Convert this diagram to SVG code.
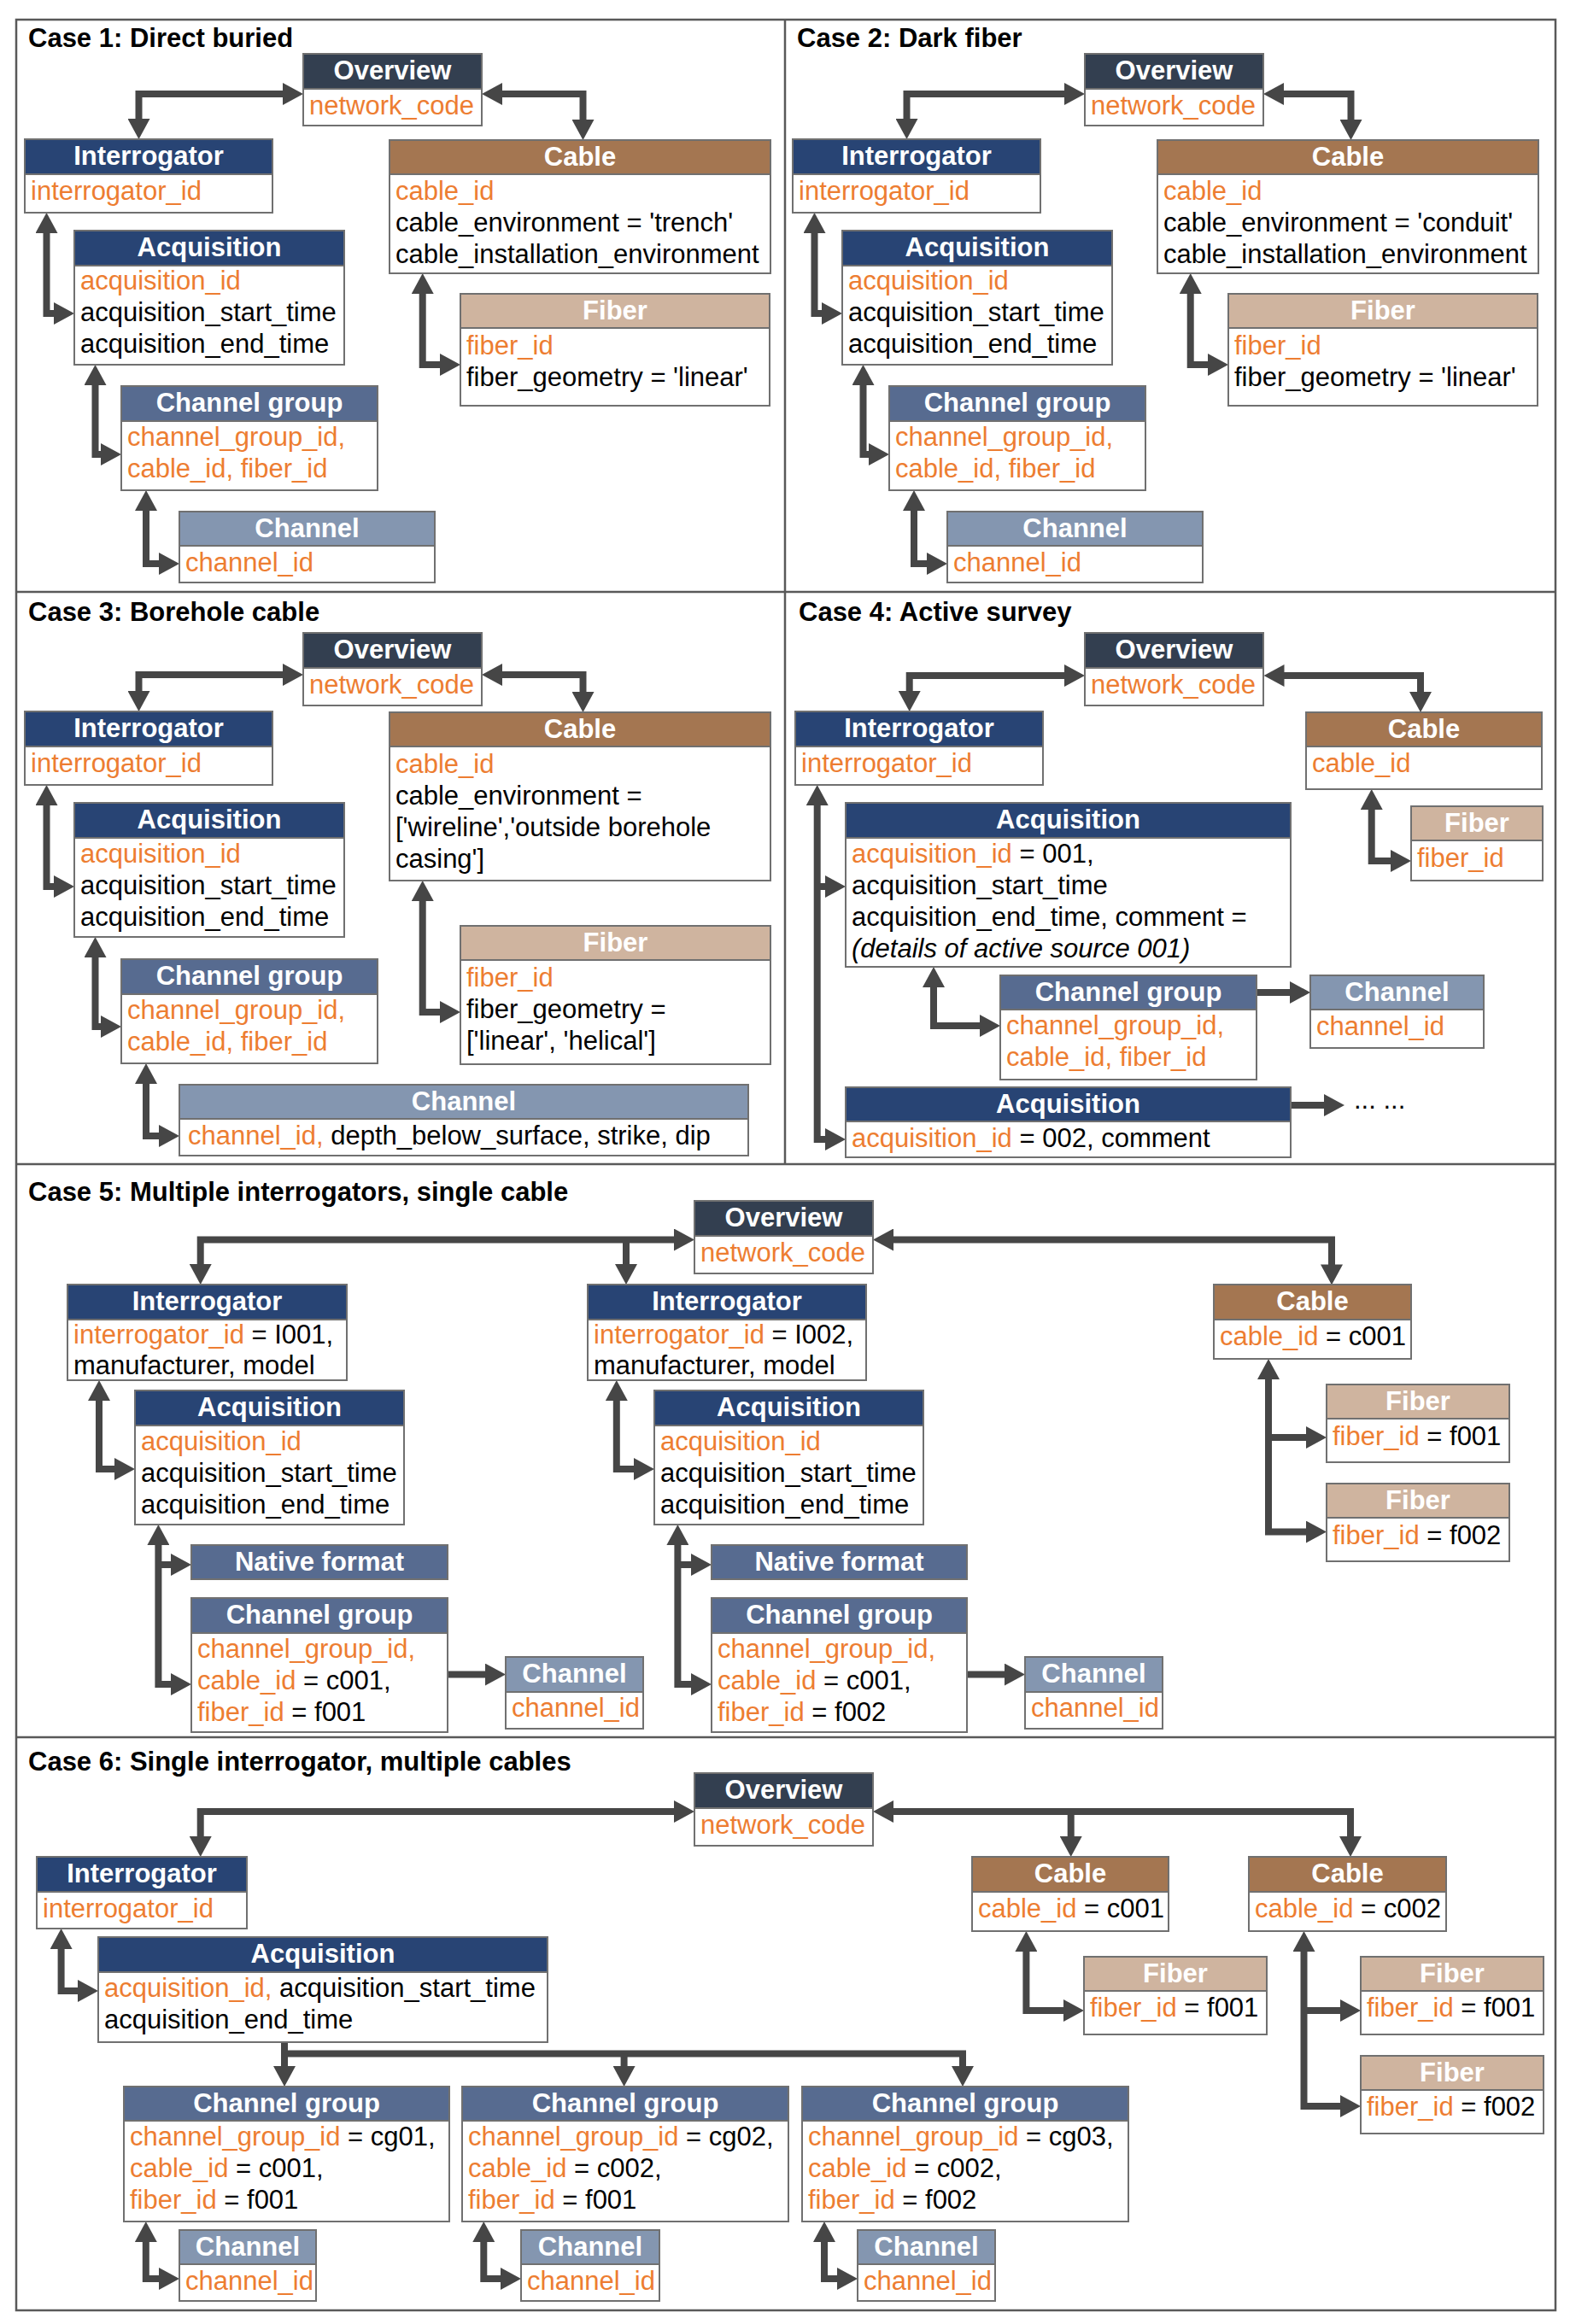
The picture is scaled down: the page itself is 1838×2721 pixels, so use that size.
<svg xmlns="http://www.w3.org/2000/svg" width="1838" height="2721" viewBox="0 0 1838 2721">
<style>
text{font-family:"Liberation Sans",Arial,sans-serif;font-size:31px;fill:#000}
.h{font-weight:bold;fill:#fff;text-anchor:middle}
.ttl{font-weight:bold}
.o{fill:#ed7d31}
.i{font-style:italic}
.b{fill:#fff;stroke:#707070;stroke-width:2}
.ov{fill:#333f50;stroke:#707070;stroke-width:2}
.bl{fill:#284474;stroke:#707070;stroke-width:2}
.cg{fill:#576b90;stroke:#707070;stroke-width:2}
.ch{fill:#8496b0;stroke:#707070;stroke-width:2}
.cb{fill:#a47651;stroke:#707070;stroke-width:2}
.fb{fill:#cfb49f;stroke:#707070;stroke-width:2}
.fr{fill:none;stroke:#595959;stroke-width:2.5}
#connectors path{fill:none;stroke:#464646;stroke-width:8;stroke-linejoin:miter}
#connectors .bi{marker-start:url(#ah);marker-end:url(#ah)}
#connectors .u{marker-end:url(#ah)}
</style>
<defs>
<marker id="ah" markerUnits="userSpaceOnUse" markerWidth="24" markerHeight="26" viewBox="0 0 24 26" refX="1" refY="13" orient="auto-start-reverse"><path d="M0,0L24,13L0,26z" fill="#464646"/></marker>
</defs>
<rect x="0" y="0" width="1838" height="2721" fill="#fff"/>
<g id="frame">
<rect class="fr" x="19" y="23" width="1802" height="2682"/>
<line class="fr" x1="19" y1="693" x2="1821" y2="693"/>
<line class="fr" x1="19" y1="1363" x2="1821" y2="1363"/>
<line class="fr" x1="19" y1="2034" x2="1821" y2="2034"/>
<line class="fr" x1="919" y1="23" x2="919" y2="1363"/>
<text class="ttl" x="33" y="55">Case 1: Direct buried</text>
<text class="ttl" x="933" y="55">Case 2: Dark fiber</text>
<text class="ttl" x="33" y="727">Case 3: Borehole cable</text>
<text class="ttl" x="935" y="727">Case 4: Active survey</text>
<text class="ttl" x="33" y="1406">Case 5: Multiple interrogators, single cable</text>
<text class="ttl" x="33" y="2073">Case 6: Single interrogator, multiple cables</text>
</g>
<g id="connectors">
<!-- case 1 -->
<path class="bi" d="M162.5,140V110H332"/>
<path class="bi" d="M587,110H682.5V141"/>
<path class="bi" d="M54.5,272V367H64"/>
<path class="bi" d="M111.5,450V532H119"/>
<path class="bi" d="M171,597V660H187"/>
<path class="bi" d="M494.7,343V427H516"/>
<!-- case 2 -->
<path class="bi" d="M1061.5,140V110H1247"/>
<path class="bi" d="M1502,110H1581.5V141"/>
<path class="bi" d="M953.5,272V367H963"/>
<path class="bi" d="M1010.5,450V532H1018"/>
<path class="bi" d="M1070,597V660H1086"/>
<path class="bi" d="M1393.7,343V427H1415"/>
<!-- case 3 -->
<path class="bi" d="M162.5,810V790H332"/>
<path class="bi" d="M587,790H682.5V811"/>
<path class="bi" d="M54.5,942V1038H64"/>
<path class="bi" d="M111.5,1120V1202H119"/>
<path class="bi" d="M171,1268V1330H187"/>
<path class="bi" d="M494.7,1054V1185H516"/>
<!-- case 4 -->
<path class="bi" d="M1064.7,810V791H1247"/>
<path class="bi" d="M1502.5,791H1663V811"/>
<path class="bi" d="M956.7,942V1334H967"/>
<path class="u" d="M956.7,1038H967"/>
<path class="bi" d="M1093,1155V1201H1148"/>
<path class="u" d="M1471,1162H1511"/>
<path class="u" d="M1511,1294H1551"/>
<path class="bi" d="M1605.7,947V1008H1629"/>
<!-- case 5 -->
<path class="bi" d="M234.7,1481V1451.5H790"/>
<path class="u" d="M733,1451.5V1481"/>
<path class="bi" d="M1045,1451.5H1559V1481.4"/>
<path class="bi" d="M116,1639V1720H135"/>
<path class="bi" d="M185.4,1808V1972H201"/>
<path class="u" d="M185.4,1832H201"/>
<path class="u" d="M524,1960.6H569"/>
<path class="bi" d="M721.8,1639V1720H743"/>
<path class="bi" d="M793.4,1808V1972H810"/>
<path class="u" d="M793.4,1832H810"/>
<path class="u" d="M1132,1960.6H1177"/>
<path class="bi" d="M1485,1614V1793.6H1530"/>
<path class="u" d="M1485,1683H1530"/>
<!-- case 6 -->
<path class="bi" d="M234.7,2151V2121H790"/>
<path class="bi" d="M1045,2121H1581V2151"/>
<path class="u" d="M1253.7,2121V2151"/>
<path class="bi" d="M71.6,2281V2331H92"/>
<path class="u" d="M333,2391V2420"/>
<path class="u" d="M333,2404.6H1127V2420"/>
<path class="u" d="M730.6,2404.6V2420"/>
<path class="bi" d="M170.8,2624V2668H187"/>
<path class="bi" d="M566.3,2624V2668H587"/>
<path class="bi" d="M965,2624V2668H981"/>
<path class="bi" d="M1201.4,2284V2354H1246"/>
<path class="bi" d="M1526.5,2284V2466H1570"/>
<path class="u" d="M1526.5,2354H1570"/>
</g>
<!-- ================= CASE 1 ================= -->
<g id="c1-overview"><rect class="b" x="355" y="63" width="209" height="84"/><rect class="ov" x="355" y="63" width="209" height="41"/><text class="h" x="459.5" y="93">Overview</text><text class="o" x="362" y="134">network_code</text></g>
<g id="c1-interrogator"><rect class="b" x="29" y="163" width="290" height="86"/><rect class="bl" x="29" y="163" width="290" height="41"/><text class="h" x="174" y="193">Interrogator</text><text class="o" x="36" y="234">interrogator_id</text></g>
<g id="c1-cable"><rect class="b" x="456" y="164" width="446" height="156"/><rect class="cb" x="456" y="164" width="446" height="40"/><text class="h" x="679" y="194">Cable</text><text class="o" x="463" y="234">cable_id</text><text x="463" y="271">cable_environment = 'trench'</text><text x="463" y="308">cable_installation_environment</text></g>
<g id="c1-acquisition"><rect class="b" x="87" y="270" width="316" height="157"/><rect class="bl" x="87" y="270" width="316" height="41"/><text class="h" x="245" y="300">Acquisition</text><text class="o" x="94" y="339">acquisition_id</text><text x="94" y="376">acquisition_start_time</text><text x="94" y="413">acquisition_end_time</text></g>
<g id="c1-fiber"><rect class="b" x="539" y="344" width="362" height="131"/><rect class="fb" x="539" y="344" width="362" height="40"/><text class="h" x="720" y="374">Fiber</text><text class="o" x="546" y="415">fiber_id</text><text x="546" y="452">fiber_geometry = 'linear'</text></g>
<g id="c1-channel-group"><rect class="b" x="142" y="452" width="300" height="122"/><rect class="cg" x="142" y="452" width="300" height="41"/><text class="h" x="292" y="482">Channel group</text><text class="o" x="149" y="522">channel_group_id,</text><text class="o" x="149" y="559">cable_id, fiber_id</text></g>
<g id="c1-channel"><rect class="b" x="210" y="599" width="299" height="83"/><rect class="ch" x="210" y="599" width="299" height="40"/><text class="h" x="359.5" y="629">Channel</text><text class="o" x="217" y="669">channel_id</text></g>
<!-- ================= CASE 2 ================= -->
<g id="c2-overview"><rect class="b" x="1270" y="63" width="209" height="84"/><rect class="ov" x="1270" y="63" width="209" height="41"/><text class="h" x="1374.5" y="93">Overview</text><text class="o" x="1277" y="134">network_code</text></g>
<g id="c2-interrogator"><rect class="b" x="928" y="163" width="290" height="86"/><rect class="bl" x="928" y="163" width="290" height="41"/><text class="h" x="1073" y="193">Interrogator</text><text class="o" x="935" y="234">interrogator_id</text></g>
<g id="c2-cable"><rect class="b" x="1355" y="164" width="446" height="156"/><rect class="cb" x="1355" y="164" width="446" height="40"/><text class="h" x="1578" y="194">Cable</text><text class="o" x="1362" y="234">cable_id</text><text x="1362" y="271">cable_environment = 'conduit'</text><text x="1362" y="308">cable_installation_environment</text></g>
<g id="c2-acquisition"><rect class="b" x="986" y="270" width="316" height="157"/><rect class="bl" x="986" y="270" width="316" height="41"/><text class="h" x="1144" y="300">Acquisition</text><text class="o" x="993" y="339">acquisition_id</text><text x="993" y="376">acquisition_start_time</text><text x="993" y="413">acquisition_end_time</text></g>
<g id="c2-fiber"><rect class="b" x="1438" y="344" width="362" height="131"/><rect class="fb" x="1438" y="344" width="362" height="40"/><text class="h" x="1619" y="374">Fiber</text><text class="o" x="1445" y="415">fiber_id</text><text x="1445" y="452">fiber_geometry = 'linear'</text></g>
<g id="c2-channel-group"><rect class="b" x="1041" y="452" width="300" height="122"/><rect class="cg" x="1041" y="452" width="300" height="41"/><text class="h" x="1191" y="482">Channel group</text><text class="o" x="1048" y="522">channel_group_id,</text><text class="o" x="1048" y="559">cable_id, fiber_id</text></g>
<g id="c2-channel"><rect class="b" x="1109" y="599" width="299" height="83"/><rect class="ch" x="1109" y="599" width="299" height="40"/><text class="h" x="1258.5" y="629">Channel</text><text class="o" x="1116" y="669">channel_id</text></g>
<!-- ================= CASE 3 ================= -->
<g id="c3-overview"><rect class="b" x="355" y="741" width="209" height="85"/><rect class="ov" x="355" y="741" width="209" height="41"/><text class="h" x="459.5" y="771">Overview</text><text class="o" x="362" y="812">network_code</text></g>
<g id="c3-interrogator"><rect class="b" x="29" y="833" width="290" height="86"/><rect class="bl" x="29" y="833" width="290" height="41"/><text class="h" x="174" y="863">Interrogator</text><text class="o" x="36" y="904">interrogator_id</text></g>
<g id="c3-cable"><rect class="b" x="456" y="834" width="446" height="197"/><rect class="cb" x="456" y="834" width="446" height="40"/><text class="h" x="679" y="864">Cable</text><text class="o" x="463" y="905">cable_id</text><text x="463" y="942">cable_environment =</text><text x="463" y="979">['wireline','outside borehole</text><text x="463" y="1016">casing']</text></g>
<g id="c3-acquisition"><rect class="b" x="87" y="940" width="316" height="157"/><rect class="bl" x="87" y="940" width="316" height="41"/><text class="h" x="245" y="970">Acquisition</text><text class="o" x="94" y="1010">acquisition_id</text><text x="94" y="1047">acquisition_start_time</text><text x="94" y="1084">acquisition_end_time</text></g>
<g id="c3-fiber"><rect class="b" x="539" y="1084" width="363" height="162"/><rect class="fb" x="539" y="1084" width="363" height="40"/><text class="h" x="720.5" y="1114">Fiber</text><text class="o" x="546" y="1155">fiber_id</text><text x="546" y="1192">fiber_geometry =</text><text x="546" y="1229">['linear', 'helical']</text></g>
<g id="c3-channel-group"><rect class="b" x="142" y="1123" width="300" height="122"/><rect class="cg" x="142" y="1123" width="300" height="41"/><text class="h" x="292" y="1153">Channel group</text><text class="o" x="149" y="1193">channel_group_id,</text><text class="o" x="149" y="1230">cable_id, fiber_id</text></g>
<g id="c3-channel"><rect class="b" x="210" y="1270" width="666" height="83"/><rect class="ch" x="210" y="1270" width="666" height="40"/><text class="h" x="543" y="1300">Channel</text><text x="220" y="1340"><tspan class="o">channel_id,</tspan> depth_below_surface, strike, dip</text></g>
<!-- ================= CASE 4 ================= -->
<g id="c4-overview"><rect class="b" x="1270" y="741" width="209" height="85"/><rect class="ov" x="1270" y="741" width="209" height="41"/><text class="h" x="1374.5" y="771">Overview</text><text class="o" x="1277" y="812">network_code</text></g>
<g id="c4-interrogator"><rect class="b" x="931" y="833" width="290" height="86"/><rect class="bl" x="931" y="833" width="290" height="41"/><text class="h" x="1076" y="863">Interrogator</text><text class="o" x="938" y="904">interrogator_id</text></g>
<g id="c4-cable"><rect class="b" x="1529" y="834" width="276" height="90"/><rect class="cb" x="1529" y="834" width="276" height="40"/><text class="h" x="1667" y="864">Cable</text><text class="o" x="1536" y="904">cable_id</text></g>
<g id="c4-fiber"><rect class="b" x="1652" y="944" width="154" height="87"/><rect class="fb" x="1652" y="944" width="154" height="40"/><text class="h" x="1729" y="974">Fiber</text><text class="o" x="1659" y="1015">fiber_id</text></g>
<g id="c4-acquisition-1"><rect class="b" x="990" y="940" width="521" height="192"/><rect class="bl" x="990" y="940" width="521" height="41"/><text class="h" x="1250.5" y="970">Acquisition</text><text x="997" y="1010"><tspan class="o">acquisition_id</tspan> = 001,</text><text x="997" y="1047">acquisition_start_time</text><text x="997" y="1084">acquisition_end_time, comment =</text><text class="i" x="997" y="1121">(details of active source 001)</text></g>
<g id="c4-channel-group"><rect class="b" x="1171" y="1142" width="300" height="122"/><rect class="cg" x="1171" y="1142" width="300" height="40"/><text class="h" x="1321" y="1172">Channel group</text><text class="o" x="1178" y="1211">channel_group_id,</text><text class="o" x="1178" y="1248">cable_id, fiber_id</text></g>
<g id="c4-channel"><rect class="b" x="1534" y="1142" width="203" height="85"/><rect class="ch" x="1534" y="1142" width="203" height="40"/><text class="h" x="1635.5" y="1172">Channel</text><text class="o" x="1541" y="1212">channel_id</text></g>
<g id="c4-acquisition-2"><rect class="b" x="990" y="1273" width="521" height="82"/><rect class="bl" x="990" y="1273" width="521" height="40"/><text class="h" x="1250.5" y="1303">Acquisition</text><text x="997" y="1343"><tspan class="o">acquisition_id</tspan> = 002, comment</text></g>
<g id="c4-more"><text x="1585" y="1298">... ...</text></g>
<!-- ================= CASE 5 ================= -->
<g id="c5-overview"><rect class="b" x="813" y="1406" width="209" height="85"/><rect class="ov" x="813" y="1406" width="209" height="41"/><text class="h" x="917.5" y="1436">Overview</text><text class="o" x="820" y="1477">network_code</text></g>
<g id="c5-interrogator-1"><rect class="b" x="79" y="1504" width="327" height="112"/><rect class="bl" x="79" y="1504" width="327" height="41"/><text class="h" x="242.5" y="1534">Interrogator</text><text x="86" y="1573"><tspan class="o">interrogator_id</tspan> = I001,</text><text x="86" y="1609">manufacturer, model</text></g>
<g id="c5-acquisition-1"><rect class="b" x="158" y="1628" width="315" height="157"/><rect class="bl" x="158" y="1628" width="315" height="41"/><text class="h" x="315.5" y="1658">Acquisition</text><text class="o" x="165" y="1698">acquisition_id</text><text x="165" y="1735">acquisition_start_time</text><text x="165" y="1772">acquisition_end_time</text></g>
<g id="c5-native-format-1"><rect class="cg" x="224" y="1809" width="300" height="40"/><text class="h" x="374" y="1839">Native format</text></g>
<g id="c5-channel-group-1"><rect class="b" x="224" y="1871" width="300" height="157"/><rect class="cg" x="224" y="1871" width="300" height="41"/><text class="h" x="374" y="1901">Channel group</text><text class="o" x="231" y="1941">channel_group_id,</text><text x="231" y="1978"><tspan class="o">cable_id</tspan> = c001,</text><text x="231" y="2015"><tspan class="o">fiber_id</tspan> = f001</text></g>
<g id="c5-channel-1"><rect class="b" x="592" y="1940" width="161" height="84"/><rect class="ch" x="592" y="1940" width="161" height="41"/><text class="h" x="672.5" y="1970">Channel</text><text class="o" x="599" y="2010">channel_id</text></g>
<g id="c5-interrogator-2"><rect class="b" x="688" y="1504" width="326" height="112"/><rect class="bl" x="688" y="1504" width="326" height="41"/><text class="h" x="851" y="1534">Interrogator</text><text x="695" y="1573"><tspan class="o">interrogator_id</tspan> = I002,</text><text x="695" y="1609">manufacturer, model</text></g>
<g id="c5-acquisition-2"><rect class="b" x="766" y="1628" width="315" height="157"/><rect class="bl" x="766" y="1628" width="315" height="41"/><text class="h" x="923.5" y="1658">Acquisition</text><text class="o" x="773" y="1698">acquisition_id</text><text x="773" y="1735">acquisition_start_time</text><text x="773" y="1772">acquisition_end_time</text></g>
<g id="c5-native-format-2"><rect class="cg" x="833" y="1809" width="299" height="40"/><text class="h" x="982.5" y="1839">Native format</text></g>
<g id="c5-channel-group-2"><rect class="b" x="833" y="1871" width="299" height="157"/><rect class="cg" x="833" y="1871" width="299" height="41"/><text class="h" x="982.5" y="1901">Channel group</text><text class="o" x="840" y="1941">channel_group_id,</text><text x="840" y="1978"><tspan class="o">cable_id</tspan> = c001,</text><text x="840" y="2015"><tspan class="o">fiber_id</tspan> = f002</text></g>
<g id="c5-channel-2"><rect class="b" x="1200" y="1940" width="161" height="84"/><rect class="ch" x="1200" y="1940" width="161" height="41"/><text class="h" x="1280.5" y="1970">Channel</text><text class="o" x="1207" y="2010">channel_id</text></g>
<g id="c5-cable"><rect class="b" x="1421" y="1504" width="231" height="87"/><rect class="cb" x="1421" y="1504" width="231" height="41"/><text class="h" x="1536.5" y="1534">Cable</text><text x="1428" y="1575"><tspan class="o">cable_id</tspan> = c001</text></g>
<g id="c5-fiber-1"><rect class="b" x="1553" y="1621" width="214" height="91"/><rect class="fb" x="1553" y="1621" width="214" height="40"/><text class="h" x="1660" y="1651">Fiber</text><text x="1560" y="1692"><tspan class="o">fiber_id</tspan> = f001</text></g>
<g id="c5-fiber-2"><rect class="b" x="1553" y="1737" width="214" height="91"/><rect class="fb" x="1553" y="1737" width="214" height="40"/><text class="h" x="1660" y="1767">Fiber</text><text x="1560" y="1808"><tspan class="o">fiber_id</tspan> = f002</text></g>
<!-- ================= CASE 6 ================= -->
<g id="c6-overview"><rect class="b" x="813" y="2076" width="209" height="85"/><rect class="ov" x="813" y="2076" width="209" height="41"/><text class="h" x="917.5" y="2106">Overview</text><text class="o" x="820" y="2147">network_code</text></g>
<g id="c6-interrogator"><rect class="b" x="43" y="2174" width="246" height="84"/><rect class="bl" x="43" y="2174" width="246" height="41"/><text class="h" x="166" y="2204">Interrogator</text><text class="o" x="50" y="2245">interrogator_id</text></g>
<g id="c6-acquisition"><rect class="b" x="115" y="2268" width="526" height="123"/><rect class="bl" x="115" y="2268" width="526" height="41"/><text class="h" x="378" y="2298">Acquisition</text><text x="122" y="2338"><tspan class="o">acquisition_id,</tspan> acquisition_start_time</text><text x="122" y="2375">acquisition_end_time</text></g>
<g id="c6-channel-group-1"><rect class="b" x="145" y="2443" width="381" height="158"/><rect class="cg" x="145" y="2443" width="381" height="40"/><text class="h" x="335.5" y="2473">Channel group</text><text x="152" y="2512"><tspan class="o">channel_group_id</tspan> = cg01,</text><text x="152" y="2549"><tspan class="o">cable_id</tspan> = c001,</text><text x="152" y="2586"><tspan class="o">fiber_id</tspan> = f001</text></g>
<g id="c6-channel-group-2"><rect class="b" x="541" y="2443" width="382" height="158"/><rect class="cg" x="541" y="2443" width="382" height="40"/><text class="h" x="732" y="2473">Channel group</text><text x="548" y="2512"><tspan class="o">channel_group_id</tspan> = cg02,</text><text x="548" y="2549"><tspan class="o">cable_id</tspan> = c002,</text><text x="548" y="2586"><tspan class="o">fiber_id</tspan> = f001</text></g>
<g id="c6-channel-group-3"><rect class="b" x="939" y="2443" width="382" height="158"/><rect class="cg" x="939" y="2443" width="382" height="40"/><text class="h" x="1130" y="2473">Channel group</text><text x="946" y="2512"><tspan class="o">channel_group_id</tspan> = cg03,</text><text x="946" y="2549"><tspan class="o">cable_id</tspan> = c002,</text><text x="946" y="2586"><tspan class="o">fiber_id</tspan> = f002</text></g>
<g id="c6-channel-1"><rect class="b" x="210" y="2611" width="160" height="83"/><rect class="ch" x="210" y="2611" width="160" height="40"/><text class="h" x="290" y="2641">Channel</text><text class="o" x="217" y="2681">channel_id</text></g>
<g id="c6-channel-2"><rect class="b" x="610" y="2611" width="162" height="83"/><rect class="ch" x="610" y="2611" width="162" height="40"/><text class="h" x="691" y="2641">Channel</text><text class="o" x="617" y="2681">channel_id</text></g>
<g id="c6-channel-3"><rect class="b" x="1004" y="2611" width="161" height="83"/><rect class="ch" x="1004" y="2611" width="161" height="40"/><text class="h" x="1084.5" y="2641">Channel</text><text class="o" x="1011" y="2681">channel_id</text></g>
<g id="c6-cable-1"><rect class="b" x="1138" y="2174" width="230" height="87"/><rect class="cb" x="1138" y="2174" width="230" height="41"/><text class="h" x="1253" y="2204">Cable</text><text x="1145" y="2245"><tspan class="o">cable_id</tspan> = c001</text></g>
<g id="c6-cable-2"><rect class="b" x="1462" y="2174" width="231" height="87"/><rect class="cb" x="1462" y="2174" width="231" height="41"/><text class="h" x="1577.5" y="2204">Cable</text><text x="1469" y="2245"><tspan class="o">cable_id</tspan> = c002</text></g>
<g id="c6-fiber-1"><rect class="b" x="1269" y="2291" width="214" height="91"/><rect class="fb" x="1269" y="2291" width="214" height="40"/><text class="h" x="1376" y="2321">Fiber</text><text x="1276" y="2361"><tspan class="o">fiber_id</tspan> = f001</text></g>
<g id="c6-fiber-2"><rect class="b" x="1593" y="2291" width="214" height="91"/><rect class="fb" x="1593" y="2291" width="214" height="40"/><text class="h" x="1700" y="2321">Fiber</text><text x="1600" y="2361"><tspan class="o">fiber_id</tspan> = f001</text></g>
<g id="c6-fiber-3"><rect class="b" x="1593" y="2407" width="214" height="91"/><rect class="fb" x="1593" y="2407" width="214" height="40"/><text class="h" x="1700" y="2437">Fiber</text><text x="1600" y="2477"><tspan class="o">fiber_id</tspan> = f002</text></g>
</svg>
